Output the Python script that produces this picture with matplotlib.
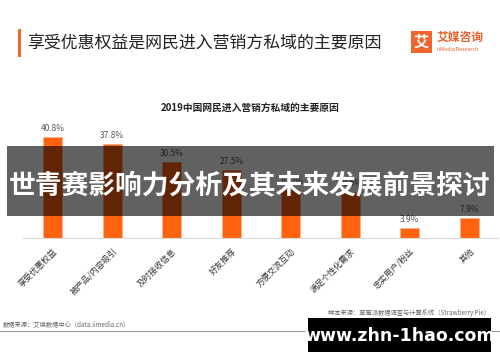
import matplotlib
matplotlib.use("Agg")
import matplotlib.pyplot as plt
from matplotlib.patches import Rectangle

plt.rcParams['font.family'] = ['Noto Sans CJK SC', 'DejaVu Sans']

# data
categories = ["享受优惠权益", "被产品/内容吸引", "及时接收信息", "好友推荐",
              "方便交流互动", "满足个性化需求", "忠实用户/粉丝", "其他"]
values = [40.8, 37.8, 30.5, 27.5, 19.2, 18.5, 3.9, 7.9]

ORANGE = "#FF6310"
W, H = 500, 362


def fx(px):
    return px / W


def fy(py):
    return 1 - py / H


fig = plt.figure(figsize=(5, 3.62), dpi=100)
fig.patch.set_facecolor("white")

# page header
fig.patches.append(Rectangle((fx(18), fy(57)), fx(3), 28 / H, transform=fig.transFigure,
                             color="#F26B2A", lw=0))
fig.text(fx(27), fy(44), "享受优惠权益是网民进入营销方私域的主要原因", fontsize=12.2,
         color="#222222", va="center", ha="left")

# logo
fig.patches.append(Rectangle((fx(411), fy(53)), fx(21), 22 / H, transform=fig.transFigure,
                             color="#F0642E", lw=0))
fig.text(fx(421.5), fy(42), "艾", fontsize=11, color="white", fontweight="bold",
         ha="center", va="center")
fig.text(fx(437), fy(37), "艾媒咨询", fontsize=8.5, color="#E8612C", fontweight="bold",
         ha="left", va="center")
fig.text(fx(437), fy(49.5), "iiMedia Research", fontsize=3.8, color="#E8612C",
         ha="left", va="center")

# chart
ax = fig.add_axes([fx(23), fy(238), fx(475), 118 / H])
x = range(len(categories))
bars = ax.bar(x, values, width=0.32, color=ORANGE, edgecolor="#FFB08A", linewidth=0.6)
for b, v in zip(bars, values):
    ax.text(b.get_x() + b.get_width() / 2, v + 1.6, f"{v:.1f}%", ha="center", va="bottom",
            fontsize=6, color="#555555")
ax.set_xlim(-0.5, 7.48)
ax.set_ylim(0, 47.6)
ax.set_xticks(list(x))
ax.set_xticklabels(categories, rotation=45, ha="right", rotation_mode="anchor",
                   fontsize=6, color="#333333")
ax.tick_params(axis="x", length=0, pad=6)
ax.set_yticks([])
for s in ["top", "right", "left"]:
    ax.spines[s].set_visible(False)
ax.spines["bottom"].set_color("#D9D9D9")
ax.spines["bottom"].set_linewidth(0.8)

fig.text(0.5, fy(108), "2019中国网民进入营销方私域的主要原因", fontsize=7, fontweight="bold",
         color="#222222", ha="center", va="center")

# footer
fig.text(fx(3), fy(324), "数据来源：艾媒数据中心（data.iimedia.cn）", fontsize=4.5,
         color="#666666", ha="left", va="center")
fig.text(fx(490), fy(313), "样本来源：草莓派数据调查与计算系统（Strawberry Pie）", fontsize=4.5,
         color="#666666", ha="right", va="center")
fig.text(fx(335), fy(323), "样本量：N=1525；调研时间：2019年8月-9月", fontsize=4.5,
         color="#666666", ha="left", va="center")
fig.add_artist(plt.Line2D([0, 1], [fy(331), fy(331)], color="#999999", lw=0.8))
fig.text(fx(490), fy(341), "艾媒报告中心: report.iimedia.cn  ©2019 iiMedia Research Inc",
         fontsize=4.5, color="#666666", ha="right", va="center")

# overlay banner
fig.patches.append(Rectangle((fx(7), fy(216)), fx(487), 70 / H, transform=fig.transFigure,
                             color="black", alpha=0.62, lw=0, zorder=10))
fig.text(fx(250), fy(186), "世青赛影响力分析及其未来发展前景探讨", fontsize=19.3,
         fontweight="bold", color="white", ha="center", va="center", zorder=11)

# watermark box
fig.patches.append(Rectangle((fx(308), fy(352)), fx(183), 34 / H, transform=fig.transFigure,
                             color="black", lw=0, zorder=10))
fig.text(fx(399.5), fy(336), "www.zhn-1hao.com", fontsize=12.5, fontweight="bold",
         color="white", ha="center", va="center", zorder=11, family="DejaVu Sans")

fig.savefig("out.png", dpi=100)
